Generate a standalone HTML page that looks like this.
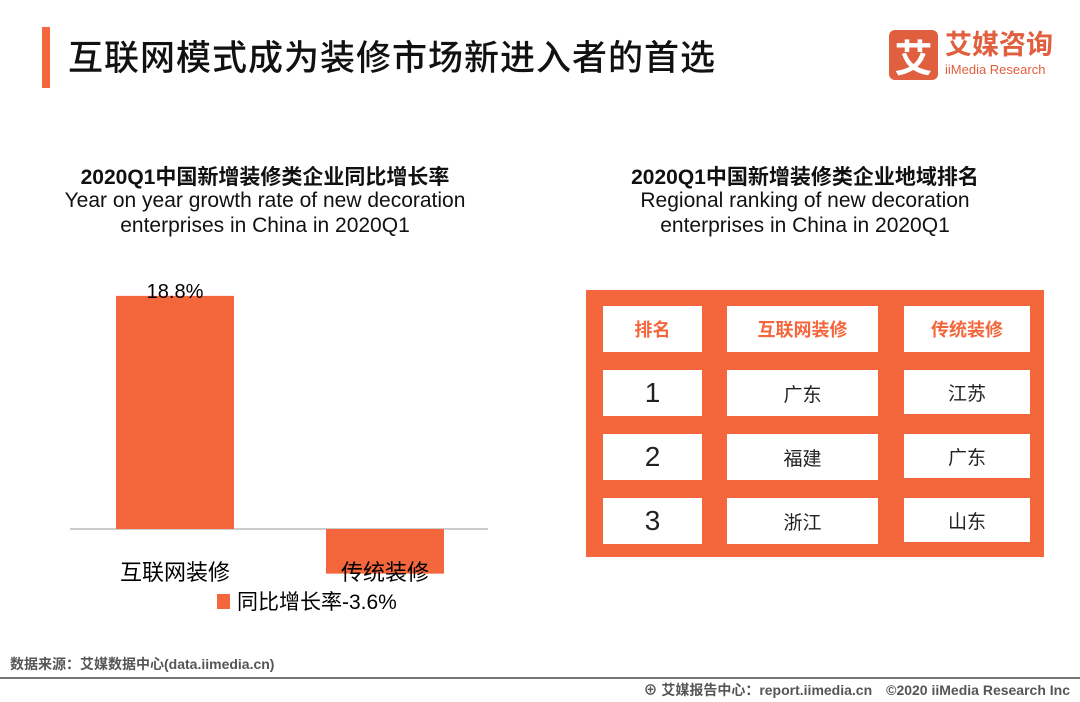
<!DOCTYPE html>
<html><head><meta charset="utf-8">
<style>
body{margin:0;width:1080px;height:702px;background:#fff;position:relative;overflow:hidden;font-family:"Liberation Sans","Noto Sans CJK SC",sans-serif;color:#111}
.a{position:absolute}
.cell{position:absolute;background:#fff;display:flex;align-items:center;justify-content:center;font-size:19px;color:#222}
.hd{color:#F4663B;font-weight:bold;font-size:18px}
</style></head><body>
<div class="a" style="left:42px;top:27px;width:8px;height:61px;background:#F4663B"></div>
<div class="a" style="left:68px;top:30px;font-size:35px;font-weight:500;letter-spacing:1px;font-family:'Noto Sans CJK SC',sans-serif">互联网模式成为装修市场新进入者的首选</div>
<div class="a" style="left:889px;top:30px;width:49px;height:50px;background:#E05F3E;border-radius:6px;color:#fff;font-size:38px;font-weight:bold;display:flex;align-items:center;justify-content:center">艾</div>
<div class="a" style="left:945px;top:30px;color:#E05F3E;font-size:27px;font-weight:bold;line-height:30px">艾媒咨询</div>
<div class="a" style="left:945px;top:62px;color:#E05F3E;font-size:13px;line-height:16px">iiMedia Research</div>

<div class="a" style="left:30px;width:470px;top:161px;text-align:center;font-size:21px;font-weight:bold">2020Q1中国新增装修类企业同比增长率</div>
<div class="a" style="left:30px;width:470px;top:188px;text-align:center;font-size:21px;line-height:25px">Year on year growth rate of new decoration<br>enterprises in China in 2020Q1</div>

<svg class="a" style="left:0;top:0" width="540" height="640" id="chart"></svg>
<script>
const categories=["互联网装修","传统装修"];
const values=[18.8,-3.6];
const labels=["18.8%","同比增长率-3.6%"];
const svg=document.getElementById('chart');
const NS='http://www.w3.org/2000/svg';
const base=529, ppu=12.4;
function y(v){return base-v*ppu;}
const xs=[116,326], bw=118;
const ax=document.createElementNS(NS,'line');
ax.setAttribute('x1',70);ax.setAttribute('x2',488);ax.setAttribute('y1',base);ax.setAttribute('y2',base);ax.setAttribute('stroke','#bbb');ax.setAttribute('stroke-width','1.5');


svg.appendChild(ax);
values.forEach((v,i)=>{
 const r=document.createElementNS(NS,'rect');
 r.setAttribute('x',xs[i]);r.setAttribute('width',bw);
 r.setAttribute('y',Math.min(y(v),base));r.setAttribute('height',Math.abs(y(v)-base));
 r.setAttribute('fill','#F4663B');
 
 
 svg.appendChild(r);
 const t=document.createElementNS(NS,'text');
 t.setAttribute('x',xs[i]+bw/2);t.setAttribute('y',580);t.setAttribute('text-anchor','middle');
 t.setAttribute('font-size','22');t.textContent=categories[i];
 
 
 svg.appendChild(t);
});
const vl=document.createElementNS(NS,'text');
vl.setAttribute('x',xs[0]+bw/2);vl.setAttribute('y',y(values[0])+2);vl.setAttribute('text-anchor','middle');vl.setAttribute('font-size','20');
vl.textContent=labels[0];


svg.appendChild(vl);
const lg=document.createElementNS(NS,'rect');
lg.setAttribute('x',217);lg.setAttribute('y',594);lg.setAttribute('width',13);lg.setAttribute('height',15);lg.setAttribute('fill','#F4663B');


svg.appendChild(lg);
const lt=document.createElementNS(NS,'text');
lt.setAttribute('x',237);lt.setAttribute('y',609);lt.setAttribute('font-size','21');lt.textContent=labels[1];


svg.appendChild(lt);
</script>

<div class="a" style="left:570px;width:470px;top:161px;text-align:center;font-size:21px;font-weight:bold">2020Q1中国新增装修类企业地域排名</div>
<div class="a" style="left:570px;width:470px;top:188px;text-align:center;font-size:21px;line-height:25px">Regional ranking of new decoration<br>enterprises in China in 2020Q1</div>

<div class="a" style="left:586px;top:290px;width:458px;height:267px;background:#F4663B"></div>
<div class="cell hd" style="left:603px;top:306px;width:99px;height:46px">排名</div>
<div class="cell hd" style="left:727px;top:306px;width:151px;height:46px">互联网装修</div>
<div class="cell hd" style="left:904px;top:306px;width:126px;height:46px">传统装修</div>
<div class="cell" style="left:603px;top:370px;width:99px;height:46px;font-size:28px">1</div>
<div class="cell" style="left:727px;top:370px;width:151px;height:46px">广东</div>
<div class="cell" style="left:904px;top:370px;width:126px;height:44px">江苏</div>
<div class="cell" style="left:603px;top:434px;width:99px;height:46px;font-size:28px">2</div>
<div class="cell" style="left:727px;top:434px;width:151px;height:46px">福建</div>
<div class="cell" style="left:904px;top:434px;width:126px;height:44px">广东</div>
<div class="cell" style="left:603px;top:498px;width:99px;height:46px;font-size:28px">3</div>
<div class="cell" style="left:727px;top:498px;width:151px;height:46px">浙江</div>
<div class="cell" style="left:904px;top:498px;width:126px;height:44px">山东</div>

<div class="a" style="left:10px;top:654px;font-size:14px;color:#555;font-weight:bold">数据来源：艾媒数据中心(data.iimedia.cn)</div>
<div class="a" style="left:0;top:677px;width:1080px;height:2px;background:#777"></div>
<div class="a" style="right:10px;top:680px;font-size:14px;color:#555;font-weight:bold">⊕ 艾媒报告中心：report.iimedia.cn　©2020  iiMedia Research  Inc</div>
</body></html>
